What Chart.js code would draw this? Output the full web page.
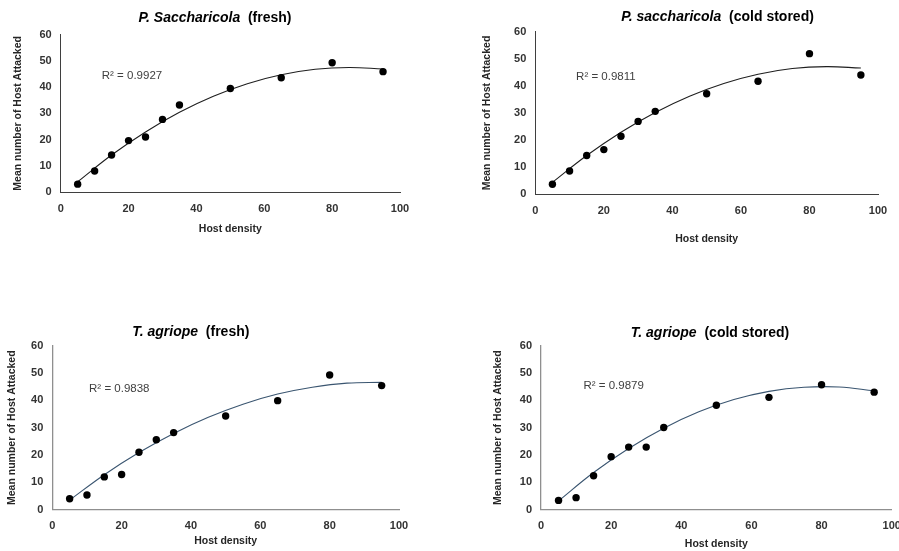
<!DOCTYPE html>
<html>
<head>
<meta charset="utf-8">
<script src="https://cdn.jsdelivr.net/npm/chart.js@4.4.1/dist/chart.umd.min.js"></script>
<style>
  html, body { margin: 0; padding: 0; background: #ffffff; overflow: hidden; width: 899px; height: 551px; }
  canvas { position: absolute; }
</style>
</head>
<body>
<canvas id="c1"></canvas>
<canvas id="c2"></canvas>
<canvas id="c3"></canvas>
<canvas id="c4"></canvas>
<script>
// ---------------- DATA ----------------
const hostDensity = [5, 10, 15, 20, 25, 30, 35, 50, 65, 80, 95];
const psFresh = [3.0, 8.0, 14.1, 19.6, 21.0, 27.7, 33.2, 39.5, 43.6, 49.3, 45.9];
const psCold  = [3.7, 8.6, 14.3, 16.5, 21.4, 26.9, 30.6, 37.1, 41.7, 51.9, 44.0];
const taFresh = [4.0, 5.4, 12.0, 12.9, 21.0, 25.6, 28.2, 34.3, 39.9, 49.3, 45.4];
const taCold  = [3.4, 4.4, 12.4, 19.4, 22.9, 22.9, 30.1, 38.2, 41.1, 45.7, 43.0];

// polynomial trend lines
const trendX = [5, 15, 25, 35, 45, 55, 65, 75, 85, 95];
const psFreshTrend = [3.9, 14.1, 22.9, 30.4, 36.5, 41.3, 44.7, 46.8, 47.5, 46.9];
const psColdTrend  = [4.4, 14.3, 22.9, 30.2, 36.2, 40.9, 44.3, 46.4, 47.1, 46.6];
const taFreshTrend = [3.5, 12.8, 20.9, 27.9, 33.8, 38.6, 42.3, 44.8, 46.3, 46.6];
const taColdTrend  = [3.2, 13.6, 22.4, 29.8, 35.8, 40.3, 43.3, 44.8, 44.9, 43.5];

const speciesNames = ["P. Saccharicola", "P. saccharicola", "T. agriope", "T. agriope"];
const conditions = ["(fresh)", "(cold stored)", "(fresh)", "(cold stored)"];
const r2Labels = ["R\u00B2 = 0.9927", "R\u00B2 = 0.9811", "R\u00B2 = 0.9838", "R\u00B2 = 0.9879"];

const xTickValues = [0, 20, 40, 60, 80, 100];
const yTickValues = [0, 10, 20, 30, 40, 50, 60];
const xAxisTitle = "Host density";
const yAxisTitle = "Mean number of Host Attacked";

// ---------------- LAYOUT (pixels) ----------------
const FONT = '"Liberation Sans", Arial, sans-serif';
const layouts = [
  { canvas: {L: 0,   T: 0,   W: 449, H: 250}, area: {left: 60.7,  right: 400,   top: 34.7,  bottom: 192},
    yTitleX: 18,    xTitleY: 229,   titleX: 215,   titleY: 18.3,  r2At: [12.1, 44.2], axisColor: '#3f3f3f', axisWidth: 1, trendColor: '#1f1f1f' },
  { canvas: {L: 450, T: 0,   W: 449, H: 250}, area: {left: 535.3, right: 878,   top: 31.7,  bottom: 194.3},
    yTitleX: 487,   xTitleY: 238.7, titleX: 717.5, titleY: 16.7,  r2At: [11.9, 43.3], axisColor: '#3f3f3f', axisWidth: 1, trendColor: '#1f1f1f' },
  { canvas: {L: 0,   T: 300, W: 449, H: 251}, area: {left: 52.3,  right: 399,   top: 345.7, bottom: 509.7},
    yTitleX: 12.3,  xTitleY: 540.7, titleX: 190.8, titleY: 332.3, r2At: [10.6, 44.2], axisColor: '#8f8f8f', axisWidth: 1.3, trendColor: '#3a5570' },
  { canvas: {L: 450, T: 300, W: 470, H: 251}, area: {left: 541,   right: 891.7, top: 345.7, bottom: 509.7},
    yTitleX: 497.7, xTitleY: 544,   titleX: 710,   titleY: 332.7, r2At: [12.1, 45.3], axisColor: '#8f8f8f', axisWidth: 1.3, trendColor: '#3a5570' }
];
const seriesList = [psFresh, psCold, taFresh, taCold];
const trendList = [psFreshTrend, psColdTrend, taFreshTrend, taColdTrend];

const tickFontSize = 11;
const axisTitleSize = 10.5;
const axisTitleLH = 1.2;

const panelText = {
  id: 'panelText',
  afterDraw(chart, args, opts) {
    const ctx = chart.ctx;
    ctx.save();
    // title: italic species + upright condition
    ctx.fillStyle = '#000000';
    ctx.textBaseline = 'middle';
    ctx.textAlign = 'left';
    const f1 = 'italic bold 14px ' + FONT;
    const f2 = 'bold 14px ' + FONT;
    ctx.font = f1;
    const w1 = ctx.measureText(opts.species).width;
    ctx.font = f2;
    const suffix = '  ' + opts.cond;
    const w2 = ctx.measureText(suffix).width;
    const start = opts.tx - (w1 + w2) / 2;
    ctx.font = f1;
    ctx.fillText(opts.species, start, opts.ty);
    ctx.font = f2;
    ctx.fillText(suffix, start + w1, opts.ty);
    // R squared
    const xs = chart.scales.x, ys = chart.scales.y;
    ctx.font = '11.5px ' + FONT;
    ctx.fillStyle = '#404040';
    ctx.fillText(opts.r2, xs.getPixelForValue(opts.r2At[0]), ys.getPixelForValue(opts.r2At[1]));
    ctx.restore();
  }
};

function makePanel(i) {
  const g = layouts[i];
  const c = g.canvas;
  const el = document.getElementById('c' + (i + 1));
  el.width = c.W; el.height = c.H;
  el.style.left = c.L + 'px'; el.style.top = c.T + 'px';
  el.style.width = c.W + 'px'; el.style.height = c.H + 'px';

  const yw = g.area.left - c.L;
  const pt = g.area.top - c.T;
  const pr = c.L + c.W - g.area.right;
  const xh = c.T + c.H - g.area.bottom;
  const lh = axisTitleSize * axisTitleLH;
  const yTitlePad = g.yTitleX - c.L - lh / 2;
  const xTitlePad = c.T + c.H - g.xTitleY - lh / 2;

  const points = hostDensity.map((x, k) => ({x: x, y: seriesList[i][k]}));
  const trend = trendX.map((x, k) => ({x: x, y: trendList[i][k]}));

  new Chart(el, {
    type: 'scatter',
    data: {
      datasets: [
        { label: 'observed', data: points, order: 0, showLine: false,
          pointRadius: 3.7, pointHoverRadius: 3.7, pointBackgroundColor: '#000000', pointBorderColor: '#000000', pointBorderWidth: 0 },
        { label: 'trend', data: trend, order: 1, showLine: true, tension: 0.4,
          borderColor: g.trendColor, borderWidth: 1.1, pointRadius: 0, pointHoverRadius: 0, fill: false }
      ]
    },
    options: {
      responsive: false,
      animation: false,
      devicePixelRatio: 1,
      layout: { padding: { left: 0, right: pr, top: pt, bottom: 0 } },
      plugins: {
        legend: { display: false },
        tooltip: { enabled: false },
        title: { display: false },
        panelText: { species: speciesNames[i], cond: conditions[i], r2: r2Labels[i],
                     tx: g.titleX - c.L, ty: g.titleY - c.T, r2At: g.r2At }
      },
      scales: {
        x: {
          type: 'linear', min: 0, max: 100,
          afterBuildTicks: (s) => { s.ticks = xTickValues.map(v => ({value: v})); },
          afterFit: (s) => { s.height = xh; s.paddingLeft = 0; s.paddingRight = 0; },
          grid: { display: false, drawTicks: false },
          border: { display: true, color: g.axisColor, width: g.axisWidth },
          ticks: { padding: 10, color: '#333333', font: { family: FONT, size: tickFontSize, weight: 'bold' }, maxRotation: 0 },
          title: { display: true, text: xAxisTitle, color: '#262626', padding: { top: 0, bottom: xTitlePad },
                   font: { family: FONT, size: axisTitleSize, weight: 'bold', lineHeight: axisTitleLH } }
        },
        y: {
          type: 'linear', min: 0, max: 60,
          afterBuildTicks: (s) => { s.ticks = yTickValues.map(v => ({value: v})); },
          afterFit: (s) => { s.width = yw; s.paddingTop = 0; s.paddingBottom = 0; },
          grid: { display: false, drawTicks: false },
          border: { display: true, color: g.axisColor, width: g.axisWidth },
          ticks: { padding: 9, color: '#333333', font: { family: FONT, size: tickFontSize, weight: 'bold' } },
          title: { display: true, text: yAxisTitle, color: '#262626', padding: { top: yTitlePad, bottom: 0 },
                   font: { family: FONT, size: axisTitleSize, weight: 'bold', lineHeight: axisTitleLH } }
        }
      }
    },
    plugins: [panelText]
  });
}
for (let i = 0; i < 4; i++) makePanel(i);
</script>
</body>
</html>
